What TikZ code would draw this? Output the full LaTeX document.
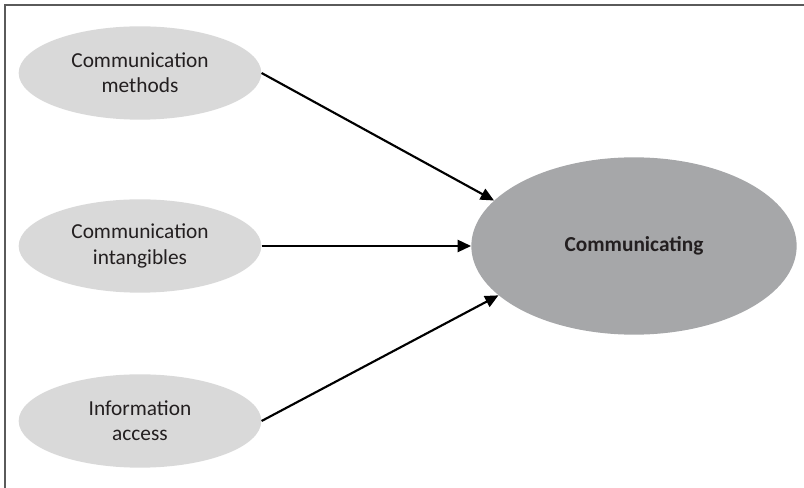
\documentclass[tikz,border=0pt]{standalone}
\usepackage{fontspec}
\setmainfont{Carlito}
\definecolor{lightg}        {RGB}{217, 217, 217}
\definecolor{darkg}         {RGB}{166, 167, 169}
\definecolor{txtg}          {RGB}{35, 31, 32}
\definecolor{frameg}        {RGB}{90, 90, 90}
\usetikzlibrary{arrows.meta, shapes.geometric}

\begin{document}
\begin{tikzpicture}[x=0.75pt, y=-0.75pt, every node/.style={font=\fontsize{16}{19}\selectfont, text=txtg},
        factor/.style={ellipse, fill=lightg, inner sep=0pt, minimum width=182pt, minimum height=70pt, align=center},
        link/.style={line width=1.6pt, -{Triangle[length=10pt, width=9pt]}}]
        \useasboundingbox (0, 0) rectangle (804, 488);
        \draw[frameg, line width=1.5pt] (4.5, 488) -- (4.5, 5) -- (804, 5);
        \node[factor] (methods) at (140, 73) {Communication\\methods};
        \node[factor] (intangibles) at (140, 246) {Communication\\intangibles};
        \node[factor] (access) at (140, 421) {Information\\access};
        \node[ellipse, fill=darkg, inner sep=0pt, minimum width=244pt, minimum height=133pt, font=\fontsize{16}{19}\selectfont\bfseries] (comm) at (634, 246) {Communicating};
        \draw[link] (methods.east) -- (comm.162);
        \draw[link] (intangibles.east) -- (comm.west);
        \draw[link] (access.east) -- (comm.200);
    \end{tikzpicture}
\end{document}
